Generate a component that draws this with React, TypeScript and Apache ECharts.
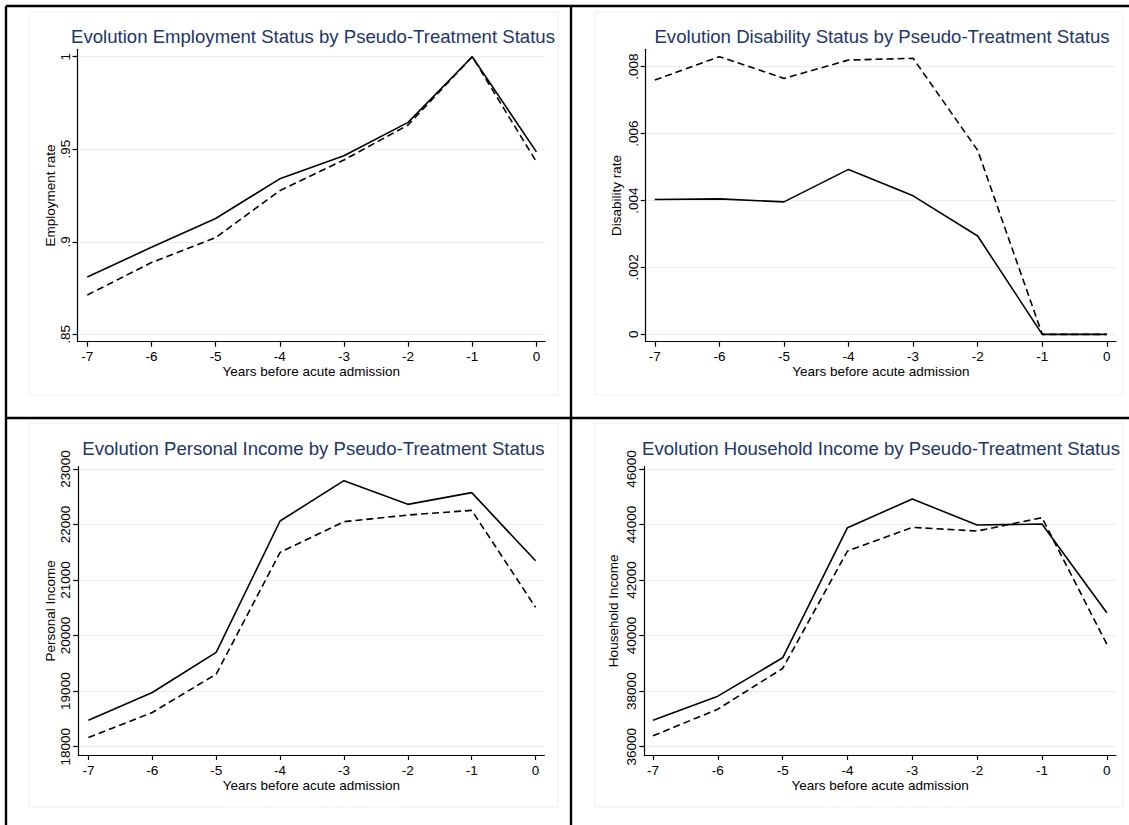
import React, { useEffect, useRef } from "react";
import * as echarts from "echarts";

const years = [-7, -6, -5, -4, -3, -2, -1, 0];

const employmentSolid = [0.881, 0.897, 0.9126, 0.934, 0.9465, 0.9645, 1.0, 0.9486];
const employmentDashed = [0.8712, 0.8888, 0.9022, 0.9276, 0.9442, 0.9631, 1.0, 0.9432];
const employmentTicks = [0.85, 0.9, 0.95, 1];

const disabilitySolid = [0.00403, 0.00405, 0.00396, 0.00493, 0.00414, 0.00294, 0, 0];
const disabilityDashed = [0.0076, 0.0083, 0.00765, 0.0082, 0.00825, 0.0055, 0, 0];
const disabilityTicks = [0, 0.002, 0.004, 0.006, 0.008];

const personalSolid = [18477, 18976, 19697, 22063, 22790, 22363, 22574, 21348];
const personalDashed = [18165, 18616, 19306, 21498, 22051, 22171, 22255, 20508];
const personalTicks = [18000, 19000, 20000, 21000, 22000, 23000];

const householdSolid = [36955, 37820, 39201, 43886, 44919, 43982, 44018, 40823];
const householdDashed = [36390, 37351, 38817, 43045, 43898, 43766, 44246, 39694];
const householdTicks = [36000, 38000, 40000, 42000, 44000, 46000];

const titles = [
  "Evolution Employment Status by Pseudo-Treatment Status",
  "Evolution Disability Status by Pseudo-Treatment Status",
  "Evolution Personal Income by Pseudo-Treatment Status",
  "Evolution Household Income by Pseudo-Treatment Status",
];
const yNames = ["Employment rate", "Disability rate", "Personal Income", "Household Income"];
const xName = "Years before acute admission";

const FONT = "'Liberation Sans', Arial, Helvetica, sans-serif";

const fmtDec = (v: number) => {
  if (v === 0) return "0";
  let s = String(Number(v.toFixed(6)));
  if (s.startsWith("0.")) s = s.slice(1);
  return s;
};

export default function App() {
  const ref = useRef<HTMLDivElement>(null);

  useEffect(() => {
    if (!ref.current) return;
    const chart = echarts.init(ref.current, undefined, { renderer: "svg" });

    const panels = [
      {
        grid: { left: 77.5, top: 49.3, width: 467.5, height: 292.4 },
        x: [-7.153, 0.134],
        y: [0.846, 1.004],
        ticks: employmentTicks,
        solid: employmentSolid,
        dashed: employmentDashed,
        fmt: fmtDec,
        nameGap: 19,
        title: [313, 36],
      },
      {
        grid: { left: 645.7, top: 49.3, width: 470.3, height: 292.4 },
        x: [-7.141, 0.142],
        y: [-0.00022, 0.00852],
        ticks: disabilityTicks,
        solid: disabilitySolid,
        dashed: disabilityDashed,
        fmt: fmtDec,
        nameGap: 22,
        title: [882, 36],
      },
      {
        grid: { left: 78.2, top: 466.7, width: 466.2, height: 288.3 },
        x: [-7.16, 0.138],
        y: [17850, 23041],
        ticks: personalTicks,
        solid: personalSolid,
        dashed: personalDashed,
        fmt: (v: number) => String(v),
        nameGap: 19.5,
        title: [313.5, 448],
      },
      {
        grid: { left: 644.3, top: 466.7, width: 471.7, height: 288.3 },
        x: [-7.134, 0.142],
        y: [35700, 46083],
        ticks: householdTicks,
        solid: householdSolid,
        dashed: householdDashed,
        fmt: (v: number) => String(v),
        nameGap: 24,
        title: [881, 448],
      },
    ];

    const axisLineStyle = { color: "#000", width: 1.2 };
    const textBase = { color: "#000", fontFamily: FONT, fontSize: 13.5 };

    const grid = panels.map((p) => ({ ...p.grid, containLabel: false }));
    const xAxis = panels.map((p, i) => ({
      type: "value",
      gridIndex: i,
      min: p.x[0],
      max: p.x[1],
      name: xName,
      nameLocation: "middle",
      nameGap: 23,
      nameTextStyle: { ...textBase },
      axisLine: { show: true, onZero: false, lineStyle: axisLineStyle },
      axisTick: { show: true, length: 5, customValues: years, lineStyle: axisLineStyle },
      axisLabel: { ...textBase, margin: 8, customValues: years, formatter: (v: number) => String(v) },
      splitLine: { show: false },
    }));
    const yAxis = panels.map((p, i) => ({
      type: "value",
      gridIndex: i,
      min: p.y[0],
      max: p.y[1],
      name: yNames[i],
      nameLocation: "middle",
      nameGap: p.nameGap,
      nameTextStyle: { ...textBase },
      axisLine: { show: true, onZero: false, lineStyle: axisLineStyle },
      axisTick: { show: true, length: 5, customValues: p.ticks, lineStyle: axisLineStyle },
      axisLabel: { ...textBase, margin: 5.5, rotate: 90, customValues: p.ticks, formatter: p.fmt },
      splitLine: { show: true, lineStyle: { color: "#e4eef0", width: 1 } },
    }));

    const series: any[] = [];
    panels.forEach((p, i) => {
      series.push({
        type: "line",
        xAxisIndex: i,
        yAxisIndex: i,
        data: years.map((yr, k) => [yr, p.solid[k]]),
        symbol: "none",
        lineStyle: { color: "#000", width: 1.6 },
        z: 3,
      });
      series.push({
        type: "line",
        xAxisIndex: i,
        yAxisIndex: i,
        data: years.map((yr, k) => [yr, p.dashed[k]]),
        symbol: "none",
        lineStyle: { color: "#000", width: 1.6, type: [7, 4] },
        z: 3,
      });
    });

    const graphic: any[] = [];
    // faint graph-region outlines
    const regions = [
      [29, 12, 529, 383],
      [595, 12, 528, 383],
      [29, 423, 529, 384],
      [595, 423, 528, 384],
    ];
    regions.forEach((r) =>
      graphic.push({
        type: "rect",
        shape: { x: r[0], y: r[1], width: r[2], height: r[3] },
        style: { fill: "none", stroke: "#eaeff2", lineWidth: 1 },
        silent: true,
      })
    );
    // black frame lines
    const frame = [
      [6, 6, 1129, 6],
      [6, 6, 6, 825],
      [571, 6, 571, 825],
      [6, 418, 1129, 418],
    ];
    frame.forEach((f) =>
      graphic.push({
        type: "line",
        shape: { x1: f[0], y1: f[1], x2: f[2], y2: f[3] },
        style: { stroke: "#000", lineWidth: 2.4 },
        silent: true,
        z: 10,
      })
    );
    panels.forEach((p, i) =>
      graphic.push({
        type: "text",
        x: p.title[0],
        y: p.title[1],
        style: {
          text: titles[i],
          fill: "#22356a",
          fontSize: 18.6,
          fontFamily: FONT,
          align: "center",
          verticalAlign: "middle",
          textAlign: "center",
          textVerticalAlign: "middle",
        },
        silent: true,
      })
    );

    chart.setOption({
      animation: false,
      backgroundColor: "#fff",
      grid,
      xAxis,
      yAxis,
      series,
      graphic,
    });

    return () => chart.dispose();
  }, []);

  return (
    <div
      ref={ref}
      style={{ position: "absolute", left: 0, top: 0, width: 1129, height: 825 }}
    />
  );
}
